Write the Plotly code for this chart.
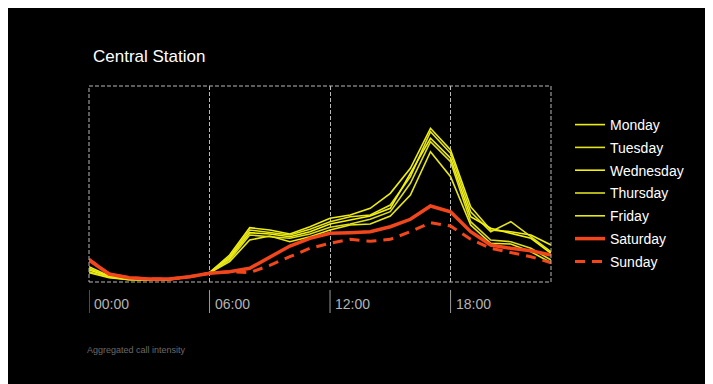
import plotly.graph_objects as go

hours = list(range(24))
tick_hours = [0, 6, 12, 18]
tick_labels = ["00:00", "06:00", "12:00", "18:00"]

monday = [15.3, 6, 3, 2.3, 2.7, 5.3, 9.3, 27, 54.3, 52, 48, 55.3, 63.7, 67, 73.7, 88.7,
          113.7, 153.7, 132, 75.3, 52, 50.3, 47, 37]
tuesday = [13.7, 5.3, 2.7, 2, 2.7, 5.3, 9.3, 25.3, 52, 49.3, 47, 52.7, 60.3, 65.3, 67, 77,
           105.3, 150.3, 128.7, 70.3, 50.3, 60.3, 45.3, 30.3]
wednesday = [12, 5.3, 2.7, 2, 2.3, 5, 9.3, 23.7, 49.3, 48, 45.3, 50.3, 58, 62, 66, 73.7,
             108.7, 143.7, 123.7, 65.3, 53.7, 48.7, 43.7, 28.7]
thursday = [10.3, 4.7, 2.3, 2, 2.3, 5, 9, 22, 47, 45.3, 43.7, 48, 54.7, 58, 62.7, 70.3,
            98.7, 140.3, 120.3, 60.3, 42, 40.3, 33.7, 22]
friday = [9.3, 4.3, 2.3, 2, 2.3, 5, 9, 20.3, 42, 46, 40.3, 45.3, 52, 57, 58, 66,
          87, 130.3, 105.3, 57, 38.7, 38, 30.3, 19.3]
saturday = [22, 8, 4.3, 3, 3, 5.3, 8.7, 10.3, 13.7, 25.3, 36, 43.7, 48.7, 49.3, 50.3, 55.3,
            62.7, 76, 70.3, 50.3, 37, 33.7, 31.3, 27]
sunday = [22.7, 8, 4.3, 3, 3, 5.3, 8.7, 10.3, 9.3, 16.7, 25.3, 33.7, 38.7, 42.7, 40.7, 42.7,
          50.3, 59.3, 56, 42.7, 33.7, 29.3, 25.3, 19.3]

weekdays = [("Monday", monday, "#eded12"), ("Tuesday", tuesday, "#e4e41a"),
            ("Wednesday", wednesday, "#f2f20a"), ("Thursday", thursday, "#dcdc22"),
            ("Friday", friday, "#e8e816")]
RED = "#f2461c"

fig = go.Figure()
for name, vals, col in weekdays:
    fig.add_trace(go.Scatter(x=hours, y=vals, name=name, mode="lines",
                             line=dict(color=col, width=1.6), legendgroup=name))
fig.add_trace(go.Scatter(x=hours, y=saturday, name="Saturday", mode="lines",
                         line=dict(color=RED, width=3.5), legendgroup="Saturday"))
fig.add_trace(go.Scatter(x=hours, y=sunday, name="Sunday", mode="lines",
                         line=dict(color=RED, width=3, dash="10px,7px"), legendgroup="Sunday"))

OFF = 8  # page body margin
W, H = 705, 376
L, R, T, B = 81, 162, 78, 102
pw, ph = W - L - R, H - T - B

def px(xs):
    return (xs - OFF - L) / pw

def py(ys):
    return (H - B - (ys - OFF)) / ph

shapes = [
    dict(type="rect", xref="paper", yref="paper", x0=0, x1=1, y0=0, y1=1,
         line=dict(color="#b8b8b8", width=1, dash="4px,2px"), layer="above"),
]
annotations = []
for h, lab in zip(tick_hours, tick_labels):
    shapes.append(dict(type="line", xref="x", yref="paper", x0=h, x1=h, y0=py(290), y1=py(313),
                       line=dict(color="#9a9a9a", width=1)))
    annotations.append(dict(x=h, y=py(304), xref="x", yref="paper", text=lab, showarrow=False,
                            xanchor="left", yanchor="middle", xshift=3,
                            font=dict(family="Liberation Sans, Arial", size=14, color="#b4b4b4")))

annotations.append(dict(x=px(91), y=py(57), xref="paper", yref="paper", text="Central Station",
                        showarrow=False, xanchor="left", yanchor="middle",
                        font=dict(family="Liberation Sans, Arial", size=17, color="white")))
annotations.append(dict(x=px(85), y=py(350), xref="paper", yref="paper",
                        text="Aggregated call intensity", showarrow=False,
                        xanchor="left", yanchor="middle",
                        font=dict(family="Liberation Sans, Arial", size=9, color="#6a6a6a")))

fig.update_layout(
    width=W, height=H,
    margin=dict(l=L, r=R, t=T, b=B, pad=0),
    paper_bgcolor="black", plot_bgcolor="black",
    showlegend=True,
    legend=dict(x=px(570), y=py(109), xanchor="left", yanchor="top",
                bgcolor="rgba(0,0,0,0)", font=dict(family="Liberation Sans, Arial", size=14,
                                                    color="white"),
                tracegroupgap=1.6, itemwidth=30),
    xaxis=dict(range=[0, 23], tickvals=tick_hours, showticklabels=False, ticks="",
               showgrid=True, gridcolor="#b8b8b8", griddash="4px,2px", gridwidth=1,
               zeroline=False, showline=False),
    yaxis=dict(range=[0, 196], showticklabels=False, ticks="", showgrid=False,
               zeroline=False, showline=False),
    shapes=shapes, annotations=annotations,
)

fig.write_html("out.html")
